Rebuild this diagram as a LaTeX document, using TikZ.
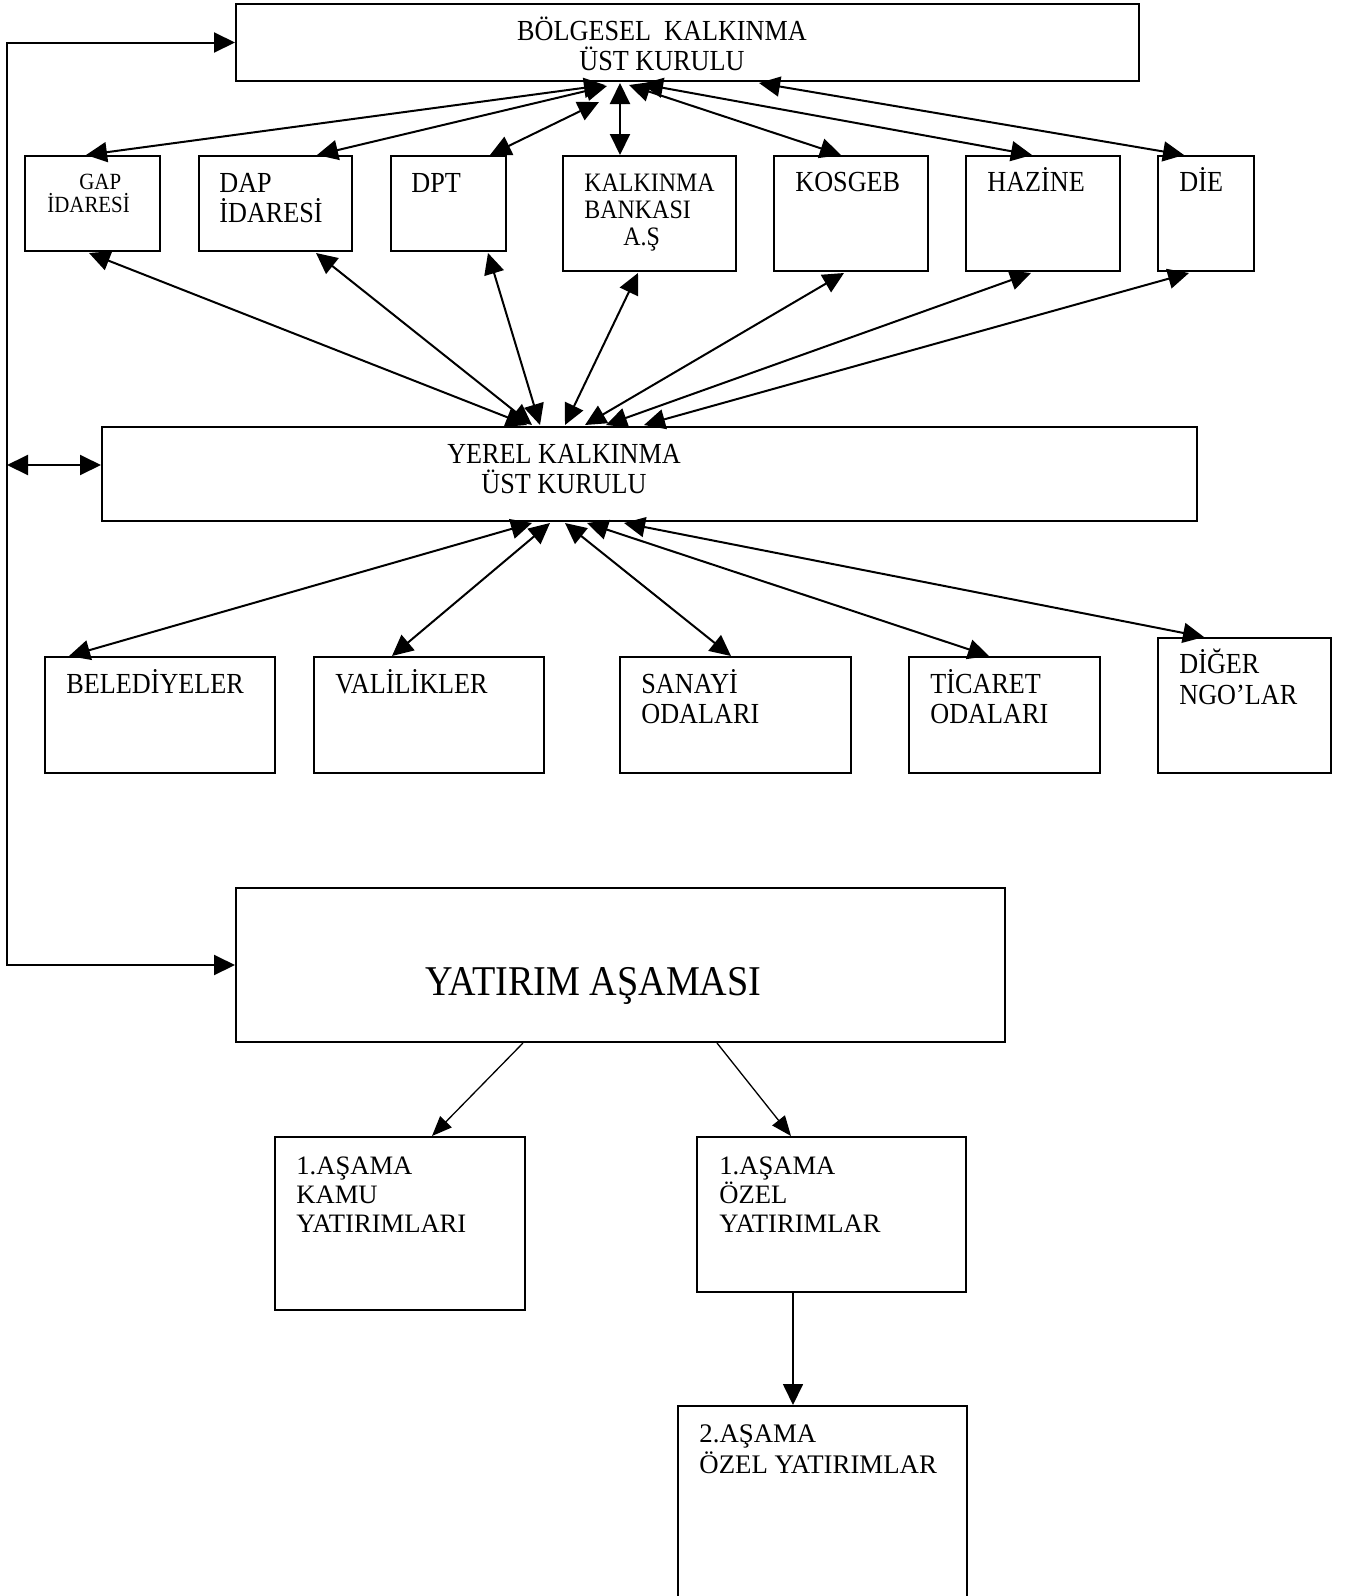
\documentclass[tikz,border=0pt]{standalone}
\usepackage{fontspec}
\setmainfont{Liberation Serif}
\newfontfamily\condfont{Liberation Serif}[FakeStretch=0.9]
\usetikzlibrary{arrows.meta,fit,calc}
\tikzset{
  box/.style={draw, line width=1pt, inner sep=0pt},
  txt/.style={inner sep=0pt, anchor=base west, align=left, font=\condfont\fontsize{14.55pt}{15pt}\selectfont},
  ctxt/.style={inner sep=0pt, anchor=base, align=center, font=\condfont\fontsize{14.55pt}{15pt}\selectfont},
  ltxt/.style={inner sep=0pt, anchor=base west, align=left, font=\fontsize{13.3pt}{14.5pt}\selectfont},
  dbl/.style={line width=1pt, {Triangle[length=10.5pt,width=10pt]}-{Triangle[length=10.5pt,width=10pt]}},
  arr/.style={line width=1pt, -{Triangle[length=10.5pt,width=10pt]}},
  thinarr/.style={line width=0.65pt, -{Triangle[length=10pt,width=8pt]}},
}
\begin{document}
\begin{tikzpicture}[x=0.5pt,y=-0.5pt]
\path[use as bounding box, fill=white] (0,0) rectangle (1346,1596);

% boxes
\node[box, fit={(236,4) (1139,81)}] (bk) {};
\node[box, fit={(25,156) (160,251)}] (gap) {};
\node[box, fit={(199,156) (352,251)}] (dap) {};
\node[box, fit={(391,156) (506,251)}] (dpt) {};
\node[box, fit={(563,156) (736,271)}] (kb) {};
\node[box, fit={(774,156) (928,271)}] (kos) {};
\node[box, fit={(966,156) (1120,271)}] (haz) {};
\node[box, fit={(1158,156) (1254,271)}] (die) {};
\node[box, fit={(102,427) (1197,521)}] (yerel) {};
\node[box, fit={(45,657) (275,773)}] (bel) {};
\node[box, fit={(314,657) (544,773)}] (val) {};
\node[box, fit={(620,657) (851,773)}] (san) {};
\node[box, fit={(909,657) (1100,773)}] (tic) {};
\node[box, fit={(1158,638) (1331,773)}] (dig) {};
\node[box, fit={(236,888) (1005,1042)}] (yat) {};
\node[box, fit={(275,1137) (525,1310)}] (kamu) {};
\node[box, fit={(697,1137) (966,1292)}] (ozelA) {};
\node[box, fit={(678,1406) (967,1640)}] (ozelB) {};

% texts (anchor = baseline of the last line)
\node[ctxt] (bkt) at (662,70) {BÖLGESEL\ \ KALKINMA\\ÜST KURULU};
\node[txt, font=\condfont\fontsize{11.6pt}{11.5pt}\selectfont] (gapt) at (47,212) {\hspace*{16pt}GAP\\İDARESİ};
\node[txt] (dapt) at (219,222) {DAP\\İDARESİ};
\node[txt] (dptt) at (411,192) {DPT};
\node[txt, font=\condfont\fontsize{13.3pt}{13.5pt}\selectfont] (kbt) at (584,245) {KALKINMA\\BANKASI\\\hspace*{19.5pt}A.Ş};
\node[txt] (kost) at (795,191) {KOSGEB};
\node[txt] (hazt) at (987,191) {HAZİNE};
\node[txt] (diet) at (1179,191) {DİE};
\node[ctxt] (yerelt) at (564,493) {YEREL KALKINMA\\ÜST KURULU};
\node[txt] (belt) at (66,693) {BELEDİYELER};
\node[txt] (valt) at (335,693) {VALİLİKLER};
\node[txt] (sant) at (641,723) {SANAYİ\\ODALARI};
\node[txt] (tict) at (930,723) {TİCARET\\ODALARI};
\node[txt, font=\condfont\fontsize{14.55pt}{15.5pt}\selectfont] (digt) at (1179,704) {DİĞER\\NGO’LAR};
\node[txt, font=\condfont\fontsize{21.2pt}{21pt}\selectfont] (yatt) at (425,995) {YATIRIM AŞAMASI};
\node[ltxt] (kamut) at (296,1232) {1.AŞAMA\\KAMU\\YATIRIMLARI};
\node[ltxt] (ozelAt) at (719,1232) {1.AŞAMA\\ÖZEL\\YATIRIMLAR};
\node[ltxt, font=\fontsize{13.4pt}{15.5pt}\selectfont] (ozelBt) at (699,1473) {2.AŞAMA\\ÖZEL YATIRIMLAR};

% left feedback line
\coordinate (lt) at (7,42.5);
\coordinate (lm) at (7,465);
\coordinate (lb) at (7,965);
\draw[dbl] (bk.west) -- (lt) -- (lb) -- (yat.west);
\draw[dbl] (lm) -- (yerel.west |- lm);

% top cluster
\draw[dbl] ($(bk.south west)+(370,3)$) -- ($(gap.north west)+(62,0)$);
\draw[dbl] ($(bk.south west)+(372,4)$) -- ($(dap.north west)+(119,0)$);
\draw[dbl] ($(bk.south west)+(364,20)$) -- ($(dpt.north west)+(100,0)$);
\draw[dbl] ($(bk.south west)+(385,1)$) -- ($(kb.north west)+(58,0)$);
\draw[dbl] ($(bk.south west)+(394,3)$) -- ($(kos.north west)+(68,0)$);
\draw[dbl] ($(bk.south west)+(407,2)$) -- ($(haz.north west)+(67,0)$);
\draw[dbl] ($(bk.south west)+(524,1)$) -- ($(die.north west)+(27,0)$);

% middle cluster
\draw[dbl] ($(gap.south west)+(65,1)$) -- ($(yerel.north west)+(426,-1)$);
\draw[dbl] ($(dap.south west)+(118,1)$) -- ($(yerel.north west)+(431,-1)$);
\draw[dbl] ($(dpt.south west)+(98,1)$) -- ($(yerel.north west)+(439,-1)$);
\draw[dbl] ($(kb.south west)+(76,1)$) -- ($(yerel.north west)+(464,-1)$);
\draw[dbl] ($(kos.south west)+(71,1)$) -- ($(yerel.north west)+(484,-1)$);
\draw[dbl] ($(haz.south west)+(66,1)$) -- ($(yerel.north west)+(505,-1)$);
\draw[dbl] ($(die.south west)+(32,1)$) -- ($(yerel.north west)+(543,-1)$);

% bottom cluster
\draw[dbl] ($(yerel.south west)+(431,1)$) -- ($(bel.north west)+(25,0)$);
\draw[dbl] ($(yerel.south west)+(449,1)$) -- ($(val.north west)+(79,0)$);
\draw[dbl] ($(yerel.south west)+(464,1)$) -- ($(san.north west)+(112,0)$);
\draw[dbl] ($(yerel.south west)+(486,1)$) -- ($(tic.north west)+(81,0)$);
\draw[dbl] ($(yerel.south west)+(523,1)$) -- ($(dig.north west)+(47,0)$);

% investment stage
\draw[thinarr] ($(yat.south west)+(288,0)$) -- ($(kamu.north west)+(158,0)$);
\draw[thinarr] ($(yat.south west)+(482,0)$) -- ($(ozelA.north west)+(95,0)$);
\draw[arr, line width=0.85pt] ($(ozelA.south west)+(97,0)$) -- ($(ozelB.north west)+(116,0)$);
\end{tikzpicture}
\end{document}
